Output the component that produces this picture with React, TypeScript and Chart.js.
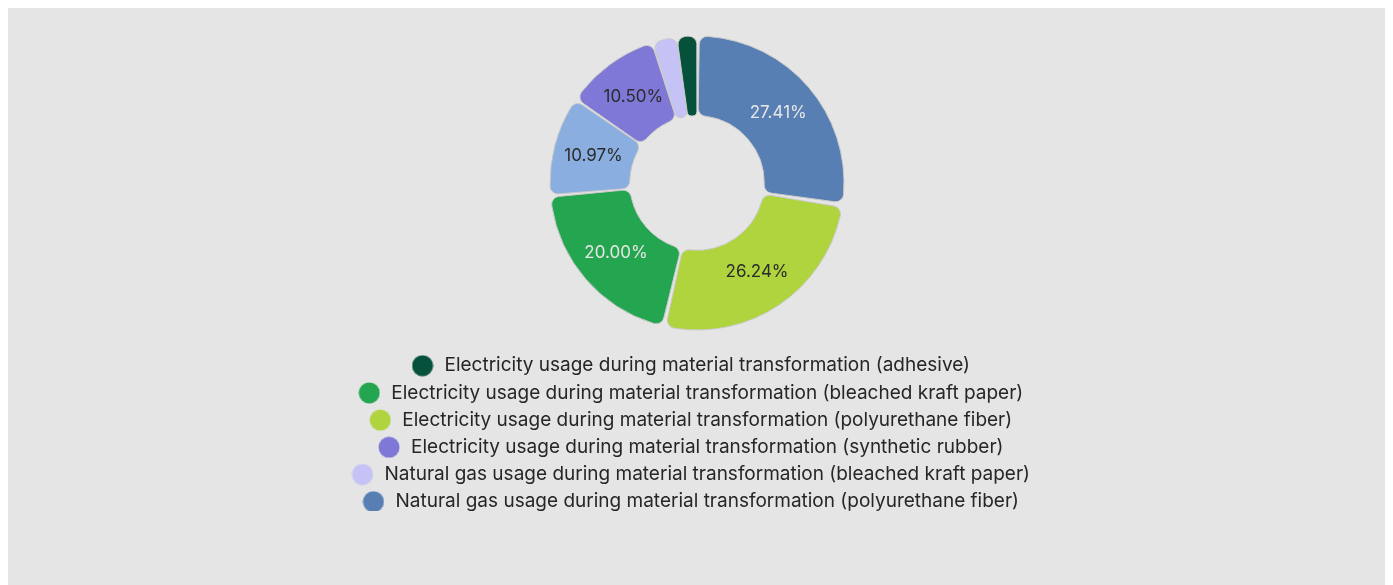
import React, { useEffect, useRef } from "react";
import { Chart, registerables } from "chart.js";

Chart.register(...registerables);

const categories: string[] = [
  "Natural gas usage during material transformation (polyurethane fiber)",
  "Electricity usage during material transformation (polyurethane fiber)",
  "Electricity usage during material transformation (bleached kraft paper)",
  "Natural gas usage during material transformation (synthetic rubber)",
  "Electricity usage during material transformation (synthetic rubber)",
  "Natural gas usage during material transformation (bleached kraft paper)",
  "Electricity usage during material transformation (adhesive)",
];

const shares: number[] = [27.41, 26.24, 20.0, 10.97, 10.5, 2.68, 2.2];

const sliceColors: string[] = [
  "#587fb3",
  "#afd43e",
  "#24a54f",
  "#8aaee0",
  "#7f78d6",
  "#c5c3f5",
  "#06513b",
];

const labelColors: string[] = ["#e6e6e6", "#2b2b2b", "#e6e6e6", "#2b2b2b", "#2b2b2b", "#2b2b2b", "#e6e6e6"];

const BG = "#e5e5e5";
const FONT = "Inter, 'Noto Sans', sans-serif";

function makeDot(color: string): HTMLCanvasElement {
  const c = document.createElement("canvas");
  c.width = 22;
  c.height = 22;
  const g = c.getContext("2d")!;
  g.beginPath();
  g.arc(11, 11, 10.5, 0, Math.PI * 2);
  g.fillStyle = color;
  g.fill();
  return c;
}

const percentLabels = {
  id: "percentLabels",
  afterDatasetsDraw(chart: any) {
    const ctx = chart.ctx;
    const meta = chart.getDatasetMeta(0);
    const data = chart.data.datasets[0].data as number[];
    const total = data.reduce((a, b) => a + b, 0);
    ctx.save();
    ctx.font = `17px ${FONT}`;
    ctx.textAlign = "center";
    ctx.textBaseline = "middle";
    meta.data.forEach((arc: any, i: number) => {
      const pct = (data[i] / total) * 100;
      if (pct < 5) return;
      const p = arc.getCenterPoint();
      ctx.fillStyle = labelColors[i];
      ctx.fillText(pct.toFixed(2) + "%", p.x, p.y);
    });
    ctx.restore();
  },
};

const shiftLegend = {
  id: "shiftLegend",
  afterLayout(chart: any) {
    if (chart.legend) {
      chart.legend.left -= 7;
      chart.legend.right -= 7;
    }
  },
};

export default function App() {
  const ref = useRef<HTMLCanvasElement | null>(null);

  useEffect(() => {
    if (!ref.current) return;
    const dots = sliceColors.map(makeDot);
    const chart = new Chart(ref.current, {
      type: "doughnut",
      data: {
        labels: categories,
        datasets: [
          {
            data: shares,
            backgroundColor: sliceColors,
            borderColor: "#c9c9c9",
            borderWidth: 1,
            borderRadius: 8,
            spacing: 4,
          },
        ],
      },
      options: {
        responsive: true,
        maintainAspectRatio: false,
        animation: false,
        cutout: "45%",
        radius: 145,
        layout: { padding: 0 },
        plugins: {
          tooltip: { enabled: false },
          legend: {
            position: "bottom",
            maxHeight: 163,
            labels: {
              usePointStyle: true,
              pointStyleWidth: 25,
              boxHeight: 15,
              padding: 8.2,
              color: "#262626",
              font: { family: FONT, size: 19 },
              sort: (a: any, b: any) => a.text.localeCompare(b.text),
              generateLabels: (ch: any) => {
                const base = (Chart as any).overrides.doughnut.plugins.legend.labels.generateLabels(ch);
                return base.map((it: any) => ({ ...it, pointStyle: dots[it.index] }));
              },
            },
          },
        },
      },
      plugins: [percentLabels, shiftLegend],
    });
    return () => chart.destroy();
  }, []);

  return (
    <div style={{ background: BG, marginTop: -3, height: 600, paddingTop: 13, boxSizing: "border-box" }}>
      <div style={{ width: 900, height: 493, margin: "0 auto", position: "relative" }}>
        <canvas ref={ref} />
      </div>
    </div>
  );
}
